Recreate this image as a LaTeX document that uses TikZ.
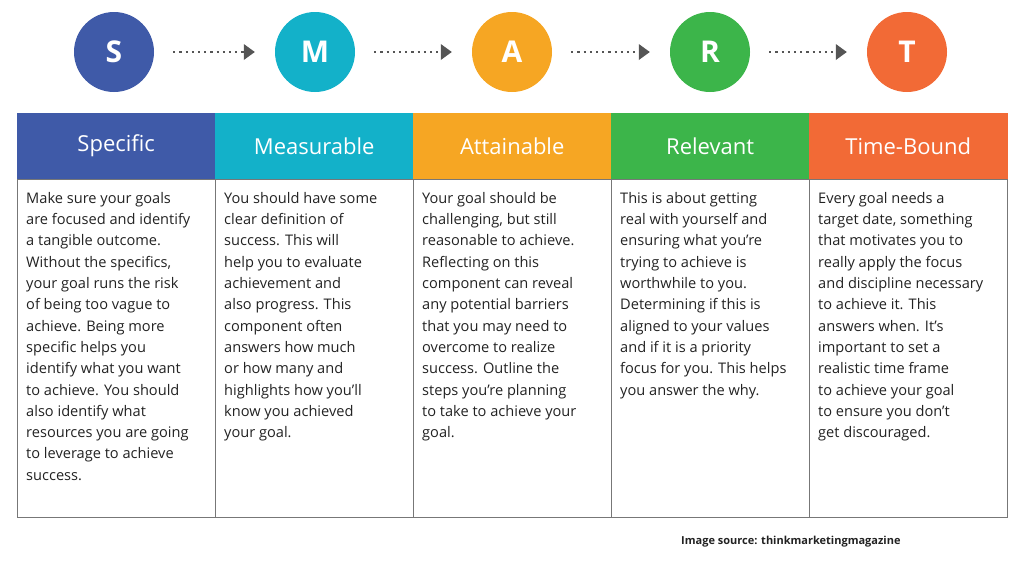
\documentclass[tikz,border=0pt]{standalone}
\usepackage{fontspec}
\setmainfont{Open Sans}
\usetikzlibrary{arrows.meta}
\definecolor{cS}{HTML}{3F5AA8}
\definecolor{cM}{HTML}{13B1C9}
\definecolor{cA}{HTML}{F6A623}
\definecolor{cR}{HTML}{3CB54A}
\definecolor{cT}{HTML}{F26A36}
\definecolor{arr}{HTML}{555555}
\definecolor{txt}{HTML}{222222}
\tikzset{
 circ/.style={circle,fill=#1,minimum size=80pt,inner sep=0pt,text=white,font=\fontsize{30}{30}\selectfont\bfseries},
 hdr/.style={fill=#1,draw=#1,minimum width=198pt,minimum height=66pt,anchor=north west,inner sep=0pt,text=white,font=\fontsize{22}{24}\selectfont},
 body/.style={anchor=north west,align=left,inner sep=0pt,text=txt,font=\fontsize{14.6}{21.3}\selectfont},
 dotarr/.style={arr,line width=2.2pt,dash pattern=on 2.2pt off 4pt,-{Triangle[length=11pt,width=16pt,line width=0pt]}},
 col/.style={draw=arr!80,line width=0.9pt}
}
\begin{document}
\begin{tikzpicture}[x=1pt,y=-1pt]
\useasboundingbox (0,0) rectangle (1024,576);
\foreach \n/\x/\c/\L in {s/114/cS/S,m/315/cM/M,a/512/cA/A,r/710/cR/R,t/907/cT/T}
  \node[circ=\c] (\n) at (\x,52) {\L};
\foreach \p/\q in {s/m,m/a,a/r,r/t}
  \draw[dotarr] ([xshift=19pt]\p.east) -- ([xshift=-20pt]\q.west);
\foreach \n/\x/\c/\h in {hs/17/cS/Specific,hm/215/cM/Measurable,ha/413/cA/Attainable,hr/611/cR/Relevant,ht/809/cT/Time-Bound}
  \node[hdr=\c] (\n) at (\x,113) {\h};
\draw[col] (17,179) rectangle (1007,517);
\foreach \x in {215,413,611,809} \draw[col] (\x,179) -- (\x,517);
\node[body] (bs) at (26,192) {Make sure your goals\\are focused and identify\\a tangible outcome.\\Without the specifics,\\your goal runs the risk\\of being too vague to\\achieve. Being more\\specific helps you\\identify what you want\\to achieve. You should\\also identify what\\resources you are going\\to leverage to achieve\\success.};
\node[body] (bm) at (224,192) {You should have some\\clear definition of\\success. This will\\help you to evaluate\\achievement and\\also progress. This\\component often\\answers how much\\or how many and\\highlights how you'll\\know you achieved\\your goal.};
\node[body] (ba) at (422,192) {Your goal should be\\challenging, but still\\reasonable to achieve.\\Reflecting on this\\component can reveal\\any potential barriers\\that you may need to\\overcome to realize\\success. Outline the\\steps you're planning\\to take to achieve your\\goal.};
\node[body] (br) at (620,192) {This is about getting\\real with yourself and\\ensuring what you're\\trying to achieve is\\worthwhile to you.\\Determining if this is\\aligned to your values\\and if it is a priority\\focus for you. This helps\\you answer the why.};
\node[body] (bt) at (818,192) {Every goal needs a\\target date, something\\that motivates you to\\really apply the focus\\and discipline necessary\\to achieve it. This\\answers when. It's\\important to set a\\realistic time frame\\to achieve your goal\\to ensure you don't\\get discouraged.};
\node[anchor=west,inner sep=0pt,text=txt,font=\fontsize{11}{13}\selectfont\bfseries] (src) at (681,542) {Image source: thinkmarketingmagazine};
\end{tikzpicture}
\end{document}
